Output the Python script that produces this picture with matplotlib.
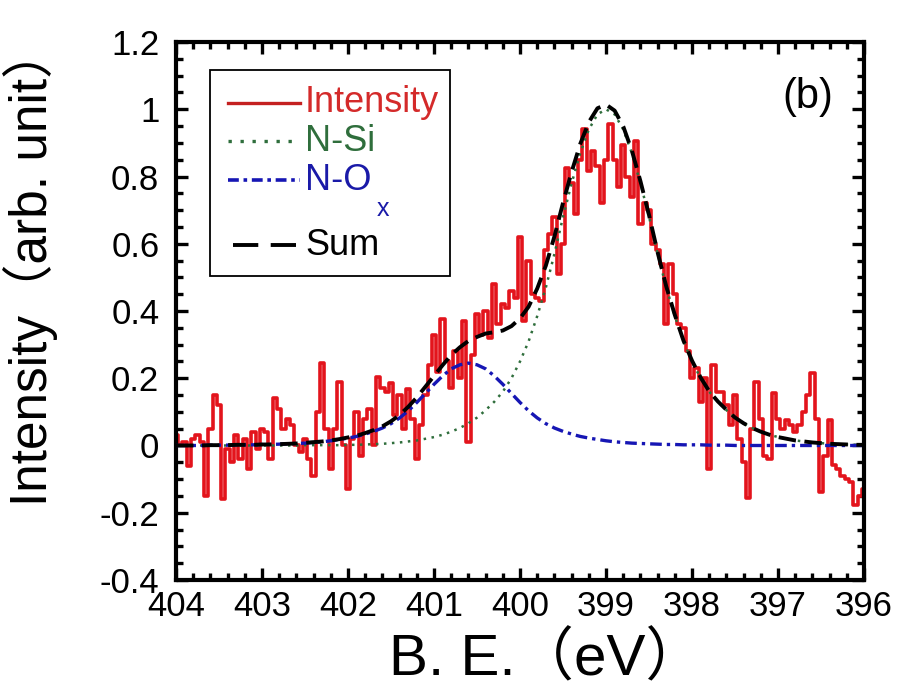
import matplotlib
matplotlib.use("Agg")
import matplotlib.pyplot as plt
from matplotlib.ticker import MultipleLocator, FixedLocator, FixedFormatter
from matplotlib.lines import Line2D
from matplotlib.patches import Rectangle

# ---------------- data ----------------
# measured N 1s intensity, binding energy 404.00 -> 396.00 step 0.05 eV
be_start = 404.0
be_step = -0.05
intensity = [
    0.03, 0.00, 0.01, -0.06, 0.02, 0.03, 0.01, -0.15, 0.05, 0.15,
    0.12, -0.16, -0.01, -0.05, 0.03, -0.04, 0.02, -0.07, 0.04, -0.01,
    0.05, 0.04, -0.04, 0.14, 0.11, 0.05, 0.08, 0.06, 0.00, -0.02,
    0.02, -0.04, -0.09, 0.10, 0.245, 0.05, -0.07, 0.05, 0.19, 0.00,
    -0.13, 0.02, 0.10, -0.03, 0.08, 0.11, 0.00, 0.205, 0.17, 0.16,
    0.185, 0.09, 0.15, 0.05, 0.167, 0.08, -0.04, 0.06, 0.15, 0.24,
    0.33, 0.22, 0.375, 0.25, 0.17, 0.28, 0.20, 0.37, 0.01, 0.27,
    0.39, 0.33, 0.40, 0.32, 0.48, 0.36, 0.42, 0.41, 0.46, 0.44,
    0.62, 0.37, 0.55, 0.45, 0.44, 0.43, 0.58, 0.63, 0.68, 0.51,
    0.60, 0.825, 0.78, 0.69, 0.85, 0.94, 0.815, 0.875, 0.83, 0.72,
    0.85, 0.955, 0.85, 0.77, 0.895, 0.80, 0.74, 0.905, 0.66, 0.72,
    0.70, 0.60, 0.58, 0.54, 0.36, 0.54, 0.45, 0.36, 0.35, 0.28,
    0.20, 0.23, 0.13, 0.20, -0.07, 0.24, 0.16, 0.16, 0.12, 0.06,
    0.15, 0.02, -0.05, -0.157, 0.05, 0.19, 0.08, -0.03, -0.04, 0.156,
    0.08, 0.05, 0.077, 0.06, 0.04, 0.06, 0.10, 0.15, 0.215, 0.08,
    -0.137, -0.03, 0.077, -0.057, -0.07, -0.09, -0.10, -0.11, -0.176, -0.15,
    -0.13,
]
be_data = [round(be_start + i * be_step, 2) for i in range(len(intensity))]

# fitted components, binding energy 404.0 -> 396.0 step 0.1 eV
fit_start = 404.0
fit_step = -0.1
n_si = [
    0, 0, 0, 0, 0, 0, 0, 0, 0, 0,
    0, 0, 0, 0, 0, 0.001, 0.001, 0.001, 0.001, 0.001,
    0.002, 0.002, 0.003, 0.004, 0.005, 0.007, 0.009, 0.012, 0.015, 0.020,
    0.025, 0.032, 0.041, 0.052, 0.066, 0.083, 0.105, 0.130, 0.160, 0.200,
    0.250, 0.310, 0.385, 0.470, 0.570, 0.680, 0.780, 0.870, 0.940, 0.985,
    1.000, 0.985, 0.940, 0.870, 0.780, 0.680, 0.570, 0.470, 0.385, 0.310,
    0.250, 0.200, 0.160, 0.130, 0.105, 0.083, 0.066, 0.052, 0.041, 0.032,
    0.025, 0.020, 0.015, 0.012, 0.009, 0.007, 0.005, 0.004, 0.003, 0.002,
    0.002,
]
n_ox = [
    0, 0, 0, 0, 0.001, 0.001, 0.001, 0.002, 0.002, 0.002,
    0.003, 0.003, 0.004, 0.005, 0.006, 0.007, 0.009, 0.011, 0.014, 0.018,
    0.022, 0.027, 0.034, 0.042, 0.052, 0.065, 0.082, 0.103, 0.128, 0.155,
    0.182, 0.207, 0.228, 0.240, 0.245, 0.240, 0.228, 0.207, 0.182, 0.155,
    0.128, 0.103, 0.082, 0.065, 0.052, 0.042, 0.034, 0.027, 0.022, 0.018,
    0.014, 0.011, 0.009, 0.007, 0.006, 0.005, 0.004, 0.003, 0.003, 0.002,
    0.002, 0.002, 0.001, 0.001, 0.001, 0, 0, 0, 0, 0,
    0, 0, 0, 0, 0, 0, 0, 0, 0, 0,
    0,
]
fit_sum = [
    0, 0, 0, 0, 0.001, 0.001, 0.001, 0.002, 0.002, 0.002,
    0.003, 0.003, 0.004, 0.005, 0.006, 0.008, 0.010, 0.012, 0.015, 0.019,
    0.024, 0.029, 0.037, 0.046, 0.057, 0.072, 0.091, 0.115, 0.143, 0.175,
    0.207, 0.239, 0.269, 0.292, 0.311, 0.323, 0.333, 0.337, 0.342, 0.355,
    0.378, 0.413, 0.467, 0.535, 0.622, 0.722, 0.814, 0.897, 0.962, 1.003,
    1.014, 0.996, 0.949, 0.877, 0.786, 0.685, 0.574, 0.473, 0.388, 0.312,
    0.252, 0.202, 0.161, 0.131, 0.106, 0.083, 0.066, 0.052, 0.041, 0.032,
    0.025, 0.020, 0.015, 0.012, 0.009, 0.007, 0.005, 0.004, 0.003, 0.002,
    0.002,
]
be_fit = [round(fit_start + i * fit_step, 1) for i in range(len(n_si))]

xticks = [404, 403, 402, 401, 400, 399, 398, 397, 396]
xtick_labels = ["404", "403", "402", "401", "400", "399", "398", "397", "396"]
yticks = [-0.4, -0.2, 0, 0.2, 0.4, 0.6, 0.8, 1.0, 1.2]
ytick_labels = ["-0.4", "-0.2", "0", "0.2", "0.4", "0.6", "0.8", "1", "1.2"]

legend_labels = ["Intensity", "N-Si", "N-O", "Sum"]
legend_sub = "x"

# ---------------- style ----------------
plt.rcParams["font.family"] = ["Liberation Sans", "Noto Sans CJK JP", "DejaVu Sans"]

fig = plt.figure(figsize=(9.09, 6.95), dpi=100)
ax = fig.add_axes([0.1936, 0.1655, 0.757, 0.774])

c_red = "#e3141c"
c_green = "#2f6e3c"
c_blue = "#1616b4"

ls_si = (0, (1, 2.2))
ls_ox = (0, (3.5, 1.5, 1, 1.5))
ls_sum = (0, (4.5, 2.2))

ax.plot(be_data, intensity, color=c_red, lw=2.6, drawstyle="steps-mid", zorder=2)
ax.plot(be_fit, n_si, color=c_green, lw=1.8, ls=ls_si, zorder=3)
ax.plot(be_fit, n_ox, color=c_blue, lw=2.4, ls=ls_ox, zorder=3)
ax.plot(be_fit, fit_sum, color="black", lw=2.8, ls=ls_sum, zorder=4)

ax.set_xlim(404, 396)
ax.set_ylim(-0.4, 1.2)

ax.xaxis.set_major_locator(FixedLocator(xticks))
ax.xaxis.set_major_formatter(FixedFormatter(xtick_labels))
ax.xaxis.set_minor_locator(MultipleLocator(0.2))
ax.yaxis.set_major_locator(FixedLocator(yticks))
ax.yaxis.set_major_formatter(FixedFormatter(ytick_labels))
ax.yaxis.set_minor_locator(MultipleLocator(0.05))

ax.tick_params(which="both", direction="in", top=True, right=True, width=2.4,
               colors="black", labelsize=25)
ax.tick_params(which="major", length=8.5)
ax.tick_params(which="minor", length=5)
ax.tick_params(axis="y", pad=12)
ax.tick_params(axis="x", pad=7)
for s in ax.spines.values():
    s.set_linewidth(3.0)

ax.set_xlabel("B. E.（eV）", fontsize=42)
ax.xaxis.set_label_coords(0.31, -0.096)
ax.xaxis.label.set_va("top")
ax.xaxis.label.set_ha("left")
ax.set_ylabel("Intensity（arb. unit）", fontsize=37)
ax.yaxis.set_label_coords(-0.172, 0.584)

# ---------------- legend (drawn in axes coordinates) ----------------
T = ax.transAxes
ax.add_patch(Rectangle((0.0494, 0.565), 0.3489, 0.383, transform=T, fill=True,
                       facecolor="white", edgecolor="black", lw=1.3, zorder=10))
rows_y = [0.887, 0.816, 0.7435, 0.6227]
handle_styles = [
    dict(color="#c42020", lw=2.4, ls="-"),
    dict(color=c_green, lw=2.4, ls=(0, (1, 2.6))),
    dict(color=c_blue, lw=2.6, ls=(0, (3.0, 1.3, 1, 1.3))),
    dict(color="black", lw=2.8, ls=(0, (6.5, 3.2))),
]
text_colors = ["#d42a2a", "#2f6e3c", "#1a1aa8", "black"]
handle_x0 = [0.0756, 0.0756, 0.0756, 0.083]
for yy, st, lab, tc, hx in zip(rows_y, handle_styles, legend_labels, text_colors, handle_x0):
    ax.add_line(Line2D([hx, 0.180], [yy, yy], transform=T, zorder=11, **st))
    ax.text(0.1875, yy, lab, transform=T, fontsize=26, color=tc,
            ha="left", va="center", zorder=12)
ax.text(0.291, 0.690, legend_sub, transform=T, fontsize=18, color="#1a1aa8",
        ha="left", va="center", zorder=12)

ax.text(0.918, 0.898, "(b)", transform=T, fontsize=30,
        ha="center", va="center", color="black")

fig.savefig("out.png", dpi=100)
